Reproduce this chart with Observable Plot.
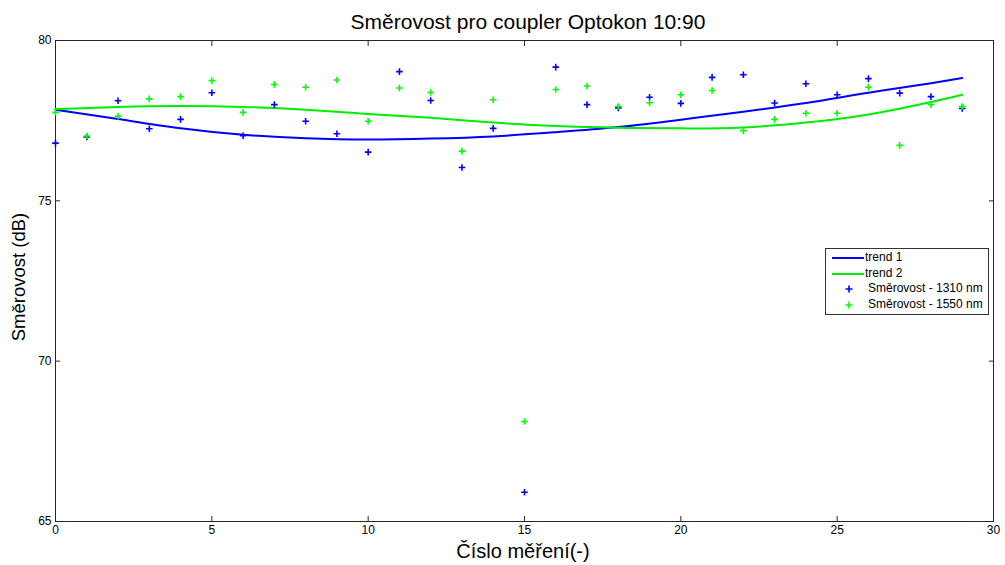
<!DOCTYPE html>
<html>
<head>
<meta charset="utf-8">
<script src="https://cdn.jsdelivr.net/npm/d3@7"></script>
<script src="https://cdn.jsdelivr.net/npm/@observablehq/plot@0.6"></script>
<style>
  html, body { margin: 0; padding: 0; background: #fff; }
  #wrap { position: relative; width: 1005px; height: 565px; font-family: "Liberation Sans", Arial, sans-serif; color: #000; }
  .abs { position: absolute; white-space: nowrap; }
  #title { left: 0; width: 1056px; top: 10px; text-align: center; font-size: 21px; line-height: 1.149; }
  #xlabel { left: 0; width: 1046px; top: 540px; text-align: center; font-size: 20px; line-height: 1.149; }
  #ylabel { left: 19px; top: 277px; font-size: 18.5px; transform: translate(-50%, -50%) rotate(-90deg); }
  #legend { left: 825px; top: 248px; width: 162px; height: 65px; border: 1px solid #333; background: #fff; font-size: 12px; }
  .lrow { position: absolute; left: 0; height: 16px; }
  .lline { position: absolute; left: 6px; width: 32px; height: 2px; }
</style>
</head>
<body>
<div id="wrap">
  <div id="chart"></div>
  <div id="title" class="abs">Směrovost pro coupler Optokon 10:90</div>
  <div id="xlabel" class="abs">Číslo měření(-)</div>
  <div id="ylabel" class="abs">Směrovost (dB)</div>
  <div id="legend" class="abs"></div>
</div>
<script>
// ---- data ----
const measurement = [0,1,2,3,4,5,6,7,8,9,10,11,12,13,14,15,16,17,18,19,20,21,22,23,24,25,26,27,28,29];
const dir1310 = [76.80,76.99,78.12,77.25,77.54,78.37,77.03,78.00,77.48,77.09,76.52,79.03,78.13,76.04,77.26,65.91,79.17,78.00,77.90,78.23,78.04,78.85,78.93,78.05,78.65,78.31,78.81,78.36,78.25,77.88];
const dir1550 = [77.76,77.02,77.64,78.18,78.25,78.75,77.76,78.63,78.54,78.77,77.48,78.52,78.38,76.55,78.15,68.12,78.47,78.58,77.94,78.06,78.31,78.44,77.19,77.54,77.73,77.73,78.54,76.73,78.00,77.94];
const trendX = [0,2,4,6,8,10,12,14,16,18,20,22,24,26,28,29];
const trend1 = [77.84,77.55,77.26,77.06,76.95,76.91,76.94,77.01,77.14,77.30,77.53,77.78,78.05,78.37,78.67,78.83];
const trend2 = [77.86,77.93,77.96,77.93,77.84,77.71,77.59,77.44,77.33,77.28,77.26,77.29,77.44,77.69,78.08,78.31];
const xTicks = [0,5,10,15,20,25,30];
const yTicks = [65,70,75,80];
const seriesNames = ["trend 1","trend 2","Směrovost - 1310 nm","Směrovost - 1550 nm"];
const colors = ["#0000ff","#00ee00","#0000ff","#00ff00"];

const pts1 = measurement.map((x,i)=>({x, y: dir1310[i]}));
const pts2 = measurement.map((x,i)=>({x, y: dir1550[i]}));
const t1 = trendX.map((x,i)=>({x, y: trend1[i]}));
const t2 = trendX.map((x,i)=>({x, y: trend2[i]}));

const plusSymbol = {
  draw(context, size) {
    const r = Math.sqrt(size / Math.PI);
    context.moveTo(-r, 0); context.lineTo(r, 0);
    context.moveTo(0, -r); context.lineTo(0, r);
  }
};

const axisColor = "#262626";
const chart = Plot.plot({
  width: 1005, height: 565,
  marginLeft: 55, marginRight: 12, marginTop: 40, marginBottom: 44,
  x: {domain: [0, 30]},
  y: {domain: [65, 80]},
  style: {fontFamily: "'Liberation Sans', Arial, sans-serif", fontSize: "12px", color: "#000", background: "#fff"},
  marks: [
    Plot.axisX({anchor: "bottom", ticks: xTicks, tickSize: -5, tickPadding: 9, stroke: axisColor, label: null}),
    Plot.axisX({anchor: "top", ticks: xTicks, tickSize: -5, tickFormat: () => "", stroke: axisColor, label: null}),
    Plot.axisY({anchor: "left", ticks: yTicks, tickSize: -5, tickPadding: 9, stroke: axisColor, label: null}),
    Plot.axisY({anchor: "right", ticks: yTicks, tickSize: -5, tickFormat: () => "", stroke: axisColor, label: null}),
    Plot.frame({stroke: axisColor, strokeWidth: 1}),
    Plot.line(t1, {x: "x", y: "y", stroke: colors[0], strokeWidth: 2, curve: "natural"}),
    Plot.line(t2, {x: "x", y: "y", stroke: colors[1], strokeWidth: 2, curve: "natural"}),
    Plot.dot(pts1, {x: "x", y: "y", symbol: plusSymbol, r: 3.3, stroke: colors[2], strokeWidth: 1.6, fill: "none"}),
    Plot.dot(pts2, {x: "x", y: "y", symbol: plusSymbol, r: 3.3, stroke: colors[3], strokeWidth: 1.6, fill: "none"})
  ]
});
document.getElementById("chart").appendChild(chart);

// legend
const leg = document.getElementById("legend");
const rowTops = [1, 17, 32, 48];
seriesNames.forEach((name, i) => {
  const row = document.createElement("div");
  row.className = "lrow";
  row.style.top = rowTops[i] + "px";
  row.style.width = "160px";
  if (i < 2) {
    const ln = document.createElement("div");
    ln.className = "lline";
    ln.style.background = colors[i];
    ln.style.top = "7px";
    row.appendChild(ln);
  } else {
    const svg = document.createElementNS("http://www.w3.org/2000/svg", "svg");
    svg.setAttribute("width", "10"); svg.setAttribute("height", "10");
    svg.style.position = "absolute"; svg.style.left = "18px"; svg.style.top = "3px";
    const p = document.createElementNS("http://www.w3.org/2000/svg", "path");
    p.setAttribute("d", "M1.5,5H8.5M5,1.5V8.5");
    p.setAttribute("stroke", colors[i]); p.setAttribute("stroke-width", "1.6");
    svg.appendChild(p);
    row.appendChild(svg);
  }
  const tx = document.createElement("span");
  tx.textContent = name;
  tx.style.position = "absolute";
  tx.style.left = (i < 2 ? 39 : 42) + "px";
  tx.style.top = "0px";
  row.appendChild(tx);
  leg.appendChild(row);
});
</script>
</body>
</html>
